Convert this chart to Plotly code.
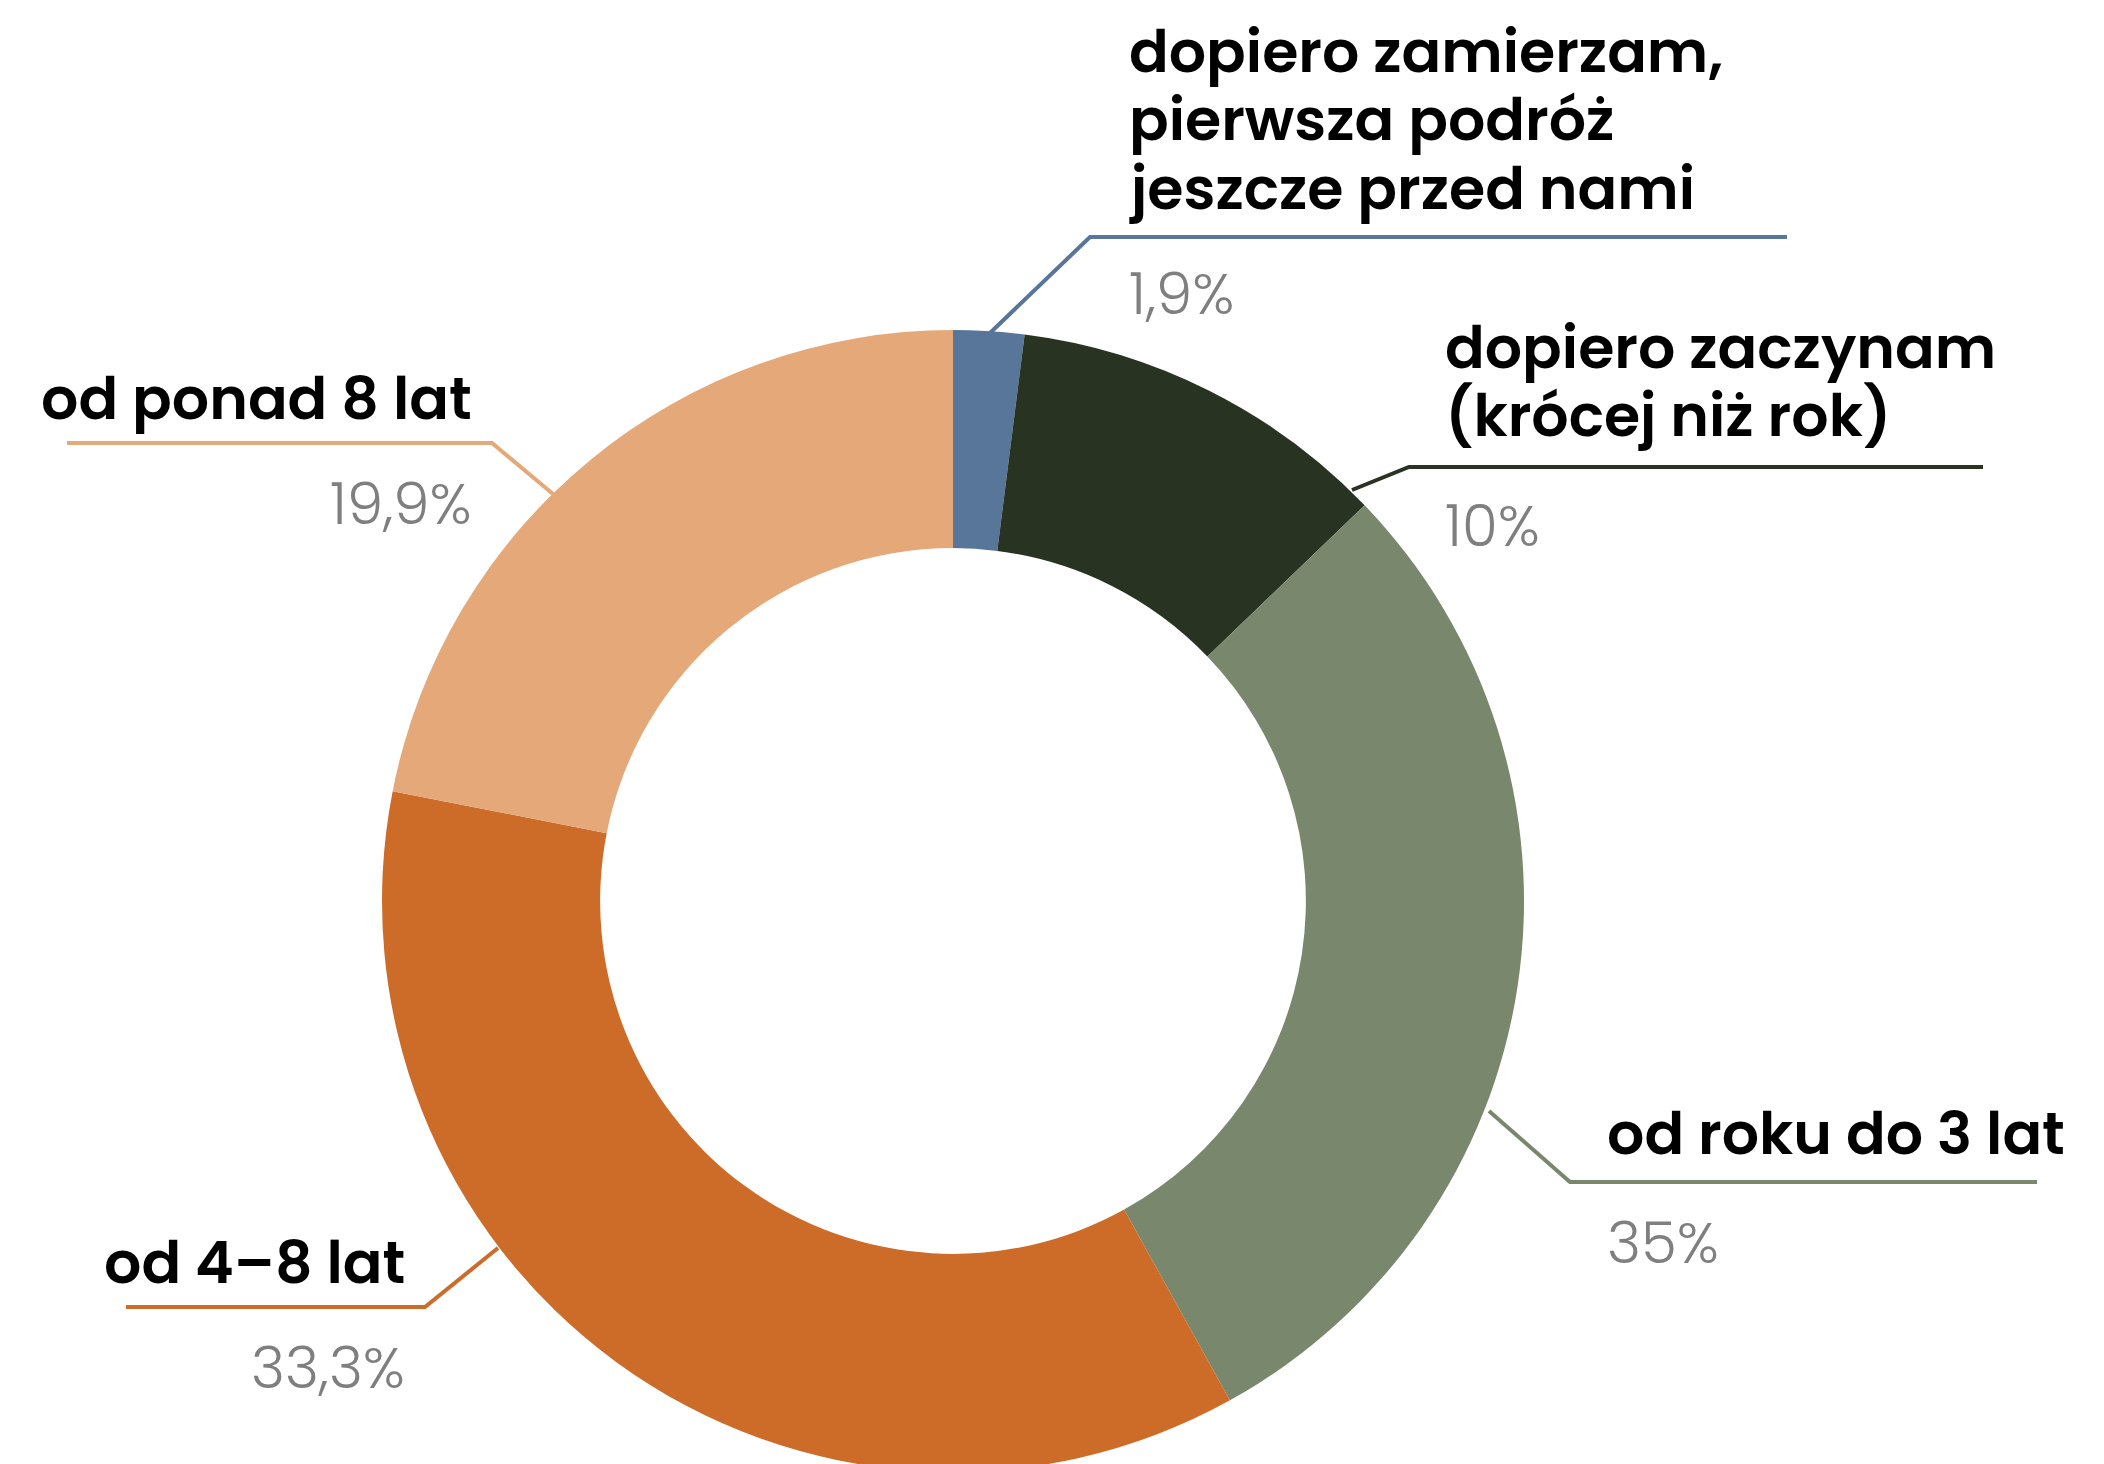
import plotly.graph_objects as go

# ---- data ----
categories = [
    "dopiero zamierzam,<br>pierwsza podróż<br>jeszcze przed nami",
    "dopiero zaczynam<br>(krócej niż rok)",
    "od roku do 3 lat",
    "od 4–8 lat",
    "od ponad 8 lat",
]
# slice sizes as drawn in the picture (share of the full circle, %)
slice_values = [2.0, 10.8, 29.1, 36.1, 21.9]
# value labels as printed next to each slice
value_labels = ["1,9%", "10%", "35%", "33,3%", "19,9%"]
colors = ["#577699", "#283322", "#79876C", "#CD6B29", "#E5A879"]

W, H = 2104, 1464
OFF = 8  # page body margin: page px = figure px + OFF

# ---- label layout in page pixels ----
# (anchor side, x of text edge, y centre of first name line, y centre of value)
label_pos = [
    ("left", 1131, 51, 293),
    ("left", 1447, 347, 525),
    ("left", 1609, 1133, 1242),
    ("right", 403, 1262, 1367),
    ("right", 470, 398, 503),
]
LINE_STEP = 69
leaders = [
    [(990, 333), (1090, 237), (1787, 237)],
    [(1352, 490), (1409, 467), (1983, 467)],
    [(1489, 1111), (1570, 1182), (2037, 1182)],
    [(498, 1248), (425, 1307), (126, 1307)],
    [(553, 494), (492, 443), (67, 443)],
]

def px(x):
    return (x - OFF) / W

def py(y):
    return 1 - (y - OFF) / H

# donut geometry in page pixels
cx, cy, r = 953, 901, 571
hole = 0.618
top = cy - r

fig = go.Figure(
    go.Pie(
        values=slice_values,
        labels=[c.replace("<br>", " ") for c in categories],
        marker=dict(colors=colors, line=dict(width=0)),
        hole=hole,
        sort=False,
        direction="clockwise",
        rotation=0,
        textinfo="none",
        hoverinfo="label",
        showlegend=False,
        domain=dict(x=[px(cx - r), px(cx + r)], y=[0, py(top)]),
    )
)

name_font = dict(family="Poppins, 'Open Sans', sans-serif", size=58.6, color="#000000", weight=600)
val_font = dict(family="Poppins, 'Open Sans', sans-serif", size=58, color="#7F7F7F", weight=300)

annotations = []
shapes = []
for i, (side, xe, yn, yv) in enumerate(label_pos):
    xadj = xe - 4 if side == "left" else xe + 4
    for k, line in enumerate(categories[i].split("<br>")):
        annotations.append(dict(
            text=line, x=px(xadj), y=py(yn + k * LINE_STEP), xref="paper", yref="paper",
            xanchor=side, yanchor="middle", align=side, showarrow=False, font=name_font,
        ))
    annotations.append(dict(
        text=value_labels[i], x=px(xadj), y=py(yv), xref="paper", yref="paper",
        xanchor=side, yanchor="middle", align=side, showarrow=False, font=val_font,
    ))
    pts = leaders[i]
    path = "M {} {}".format(px(pts[0][0]), py(pts[0][1]))
    for (x, y) in pts[1:]:
        path += " L {} {}".format(px(x), py(y))
    shapes.append(dict(type="path", path=path, xref="paper", yref="paper",
                       line=dict(color=colors[i], width=4)))

fig.update_layout(
    width=W, height=H,
    margin=dict(l=0, r=0, t=0, b=0),
    paper_bgcolor="#FFFFFF",
    plot_bgcolor="#FFFFFF",
    annotations=annotations,
    shapes=shapes,
)

fig.write_html("out.html")
